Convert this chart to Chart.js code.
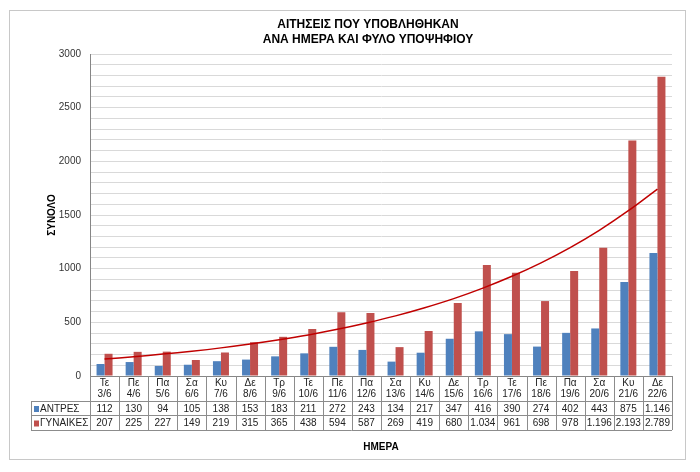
<!DOCTYPE html>
<html>
<head>
<meta charset="utf-8">
<script src="https://cdn.jsdelivr.net/npm/chart.js@4.4.1/dist/chart.umd.min.js"></script>
<style>
  body { margin: 0; background: #fff; }
  canvas { display: block; }
</style>
</head>
<body>
<canvas id="chart" width="700" height="472"></canvas>
<script>
// days of the application period
const dayNames = ['Τε', 'Πε', 'Πα', 'Σα', 'Κυ', 'Δε', 'Τρ', 'Τε', 'Πε', 'Πα', 'Σα', 'Κυ', 'Δε', 'Τρ', 'Τε', 'Πε', 'Πα', 'Σα', 'Κυ', 'Δε'];
const dates = ['3/6', '4/6', '5/6', '6/6', '7/6', '8/6', '9/6', '10/6', '11/6', '12/6', '13/6', '14/6', '15/6', '16/6', '17/6', '18/6', '19/6', '20/6', '21/6', '22/6'];

const men = [112, 130, 94, 105, 138, 153, 183, 211, 272, 243, 134, 217, 347, 416, 390, 274, 402, 443, 875, 1146];
const women = [207, 225, 227, 149, 219, 315, 365, 438, 594, 587, 269, 419, 680, 1034, 961, 698, 978, 1196, 2193, 2789];
// trend line
const trend = [158, 179, 204, 231, 262, 298, 338, 383, 435, 494, 560, 636, 721, 819, 929, 1054, 1196, 1357, 1540, 1742];

const titleLines = ['ΑΙΤΗΣΕΙΣ ΠΟΥ ΥΠΟΒΛΗΘΗΚΑΝ', 'ΑΝΑ ΗΜΕΡΑ ΚΑΙ ΦΥΛΟ ΥΠΟΨΗΦΙΟΥ'];
const seriesNames = ['ΑΝΤΡΕΣ', 'ΓΥΝΑΙΚΕΣ'];
const blue = '#4F81BD';
const red = '#C0504D';
const fontName = '"Liberation Sans", Arial, sans-serif';

const labels = dayNames.map((d, i) => [d, dates[i]]);

function fmt(n) {
  // greek thousands separator
  return String(n).replace(/\B(?=(\d{3})+(?!\d))/g, '.');
}

const tablePlugin = {
  id: 'tablePlugin',
  afterDraw(chart) {
    const ctx = chart.ctx;
    const area = chart.chartArea;
    const x = chart.scales.x;
    const catW = (area.right - area.left) / labels.length;
    const rowTop = 401, rowMid = 415, rowBot = 430, legLeft = 31;

    ctx.save();
    // outer frame
    ctx.strokeStyle = '#c8c8c8';
    ctx.lineWidth = 1;
    ctx.strokeRect(9.5, 10.5, 676, 449);

    // title
    ctx.fillStyle = '#000';
    ctx.font = 'bold 12px ' + fontName;
    ctx.textAlign = 'center';
    ctx.textBaseline = 'middle';
    ctx.fillText(titleLines[0], 368, 25);
    ctx.fillText(titleLines[1], 368, 40);

    // table grid
    ctx.strokeStyle = '#8c8c8c';
    ctx.beginPath();
    for (let i = 0; i <= labels.length; i++) {
      const px = Math.round(area.left + i * catW) + 0.5;
      ctx.moveTo(px, area.bottom);
      ctx.lineTo(px, rowBot);
    }
    [rowTop, rowMid, rowBot].forEach(y => {
      ctx.moveTo(legLeft, y + 0.5);
      ctx.lineTo(area.right, y + 0.5);
    });
    ctx.moveTo(legLeft + 0.5, rowTop);
    ctx.lineTo(legLeft + 0.5, rowBot);
    ctx.stroke();

    // legend keys and values
    const rows = [men, women];
    const colors = [blue, red];
    const rowY = [(rowTop + rowMid) / 2 + 1, (rowMid + rowBot) / 2 + 1];
    ctx.font = '10px ' + fontName;
    for (let r = 0; r < 2; r++) {
      ctx.fillStyle = colors[r];
      ctx.fillRect(34, rowY[r] - 3, 5, 6);
      ctx.fillStyle = '#222';
      ctx.textAlign = 'left';
      ctx.fillText(seriesNames[r], 40, rowY[r]);
      ctx.textAlign = 'center';
      rows[r].forEach((v, i) => {
        ctx.fillText(fmt(v), x.getPixelForValue(i), rowY[r]);
      });
    }
    ctx.restore();
  }
};

new Chart(document.getElementById('chart'), {
  type: 'bar',
  data: {
    labels: labels,
    datasets: [
      {
        type: 'line',
        label: 'trend',
        data: trend,
        borderColor: '#C00000',
        borderWidth: 1.5,
        pointRadius: 0,
        tension: 0.4,
        fill: false,
        order: 0
      },
      {
        label: seriesNames[0],
        data: men,
        backgroundColor: blue,
        categoryPercentage: 0.55,
        barPercentage: 1.0,
        order: 1
      },
      {
        label: seriesNames[1],
        data: women,
        backgroundColor: red,
        categoryPercentage: 0.55,
        barPercentage: 1.0,
        order: 1
      }
    ]
  },
  plugins: [tablePlugin],
  options: {
    responsive: false,
    animation: false,
    layout: { padding: { left: 46, right: 28, top: 54, bottom: 19 } },
    plugins: {
      legend: { display: false },
      title: { display: false },
      tooltip: { enabled: false }
    },
    scales: {
      x: {
        grid: { display: false, drawTicks: false },
        border: { display: true, color: '#868686' },
        ticks: {
          autoSkip: false,
          maxRotation: 0,
          padding: 2,
          color: '#222',
          font: { family: fontName, size: 10, lineHeight: 1.05 }
        },
        title: {
          display: true,
          text: 'ΗΜΕΡΑ',
          color: '#000',
          padding: 0,
          font: { family: fontName, size: 10, weight: 'bold' }
        },
        afterFit(scale) { scale.height = 77; }
      },
      y: {
        min: 0,
        max: 3000,
        grid: { color: '#d9d9d9', drawTicks: false },
        border: { display: true, color: '#868686' },
        ticks: {
          stepSize: 100,
          autoSkip: false,
          maxTicksLimit: 100,
          padding: 9,
          color: '#333',
          font: { family: fontName, size: 10 },
          callback: v => (v % 500 === 0 ? v : '')
        },
        title: {
          display: true,
          text: 'ΣΥΝΟΛΟ',
          color: '#000',
          padding: 0,
          font: { family: fontName, size: 10, weight: 'bold' }
        },
        afterFit(scale) { scale.width = 44; }
      }
    }
  }
});
</script>
</body>
</html>
